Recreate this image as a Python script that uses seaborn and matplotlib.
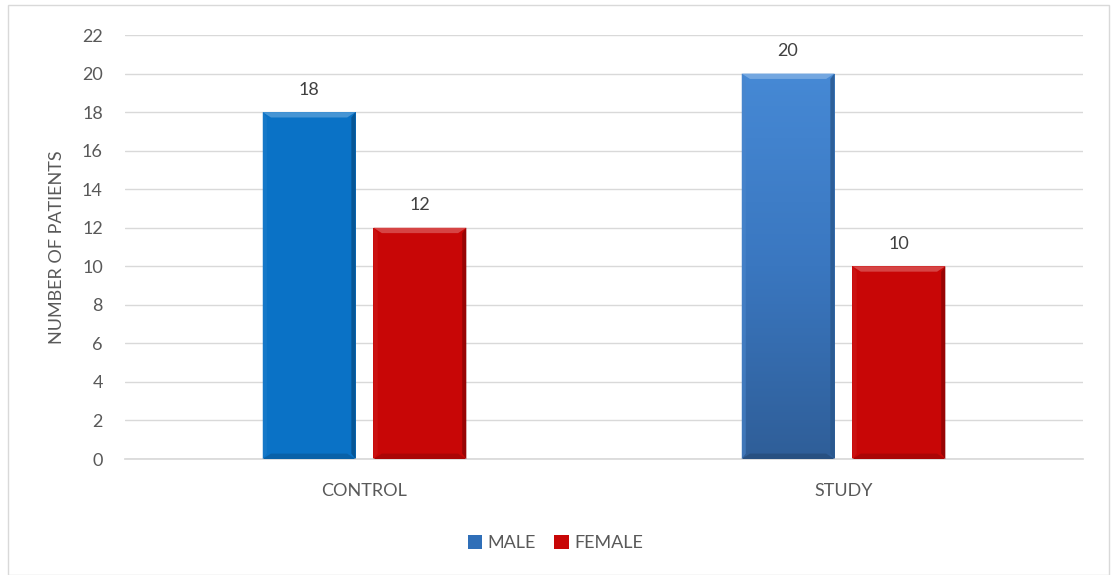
import matplotlib
matplotlib.use("Agg")
import matplotlib.pyplot as plt
import seaborn as sns
import pandas as pd
import numpy as np
from matplotlib.patches import Rectangle, Polygon
from matplotlib.colors import to_rgb, LinearSegmentedColormap

groups = ["CONTROL", "STUDY"]
sexes = ["MALE", "FEMALE"]
male_counts = [18, 20]
female_counts = [12, 10]
y_ticks = list(range(0, 23, 2))

rows = []
for g, m, f in zip(groups, male_counts, female_counts):
    rows.append({"group": g, "sex": "MALE", "count": m})
    rows.append({"group": g, "sex": "FEMALE", "count": f})
df = pd.DataFrame(rows)

sns.set_theme(style="white")
plt.rcParams["font.family"] = ["Lato", "DejaVu Sans"]

text_color = "#595959"
fs = 13
fig = plt.figure(figsize=(11.11, 5.75), dpi=100)
ax = fig.add_axes([125 / 1111, 1 - 459 / 575, (1083 - 125) / 1111, (459 - 35) / 575])

palette = {"MALE": "#0a72c6", "FEMALE": "#c80606"}
sns.barplot(data=df, x="group", y="count", hue="sex", hue_order=sexes,
            palette=palette, width=0.463, gap=0.162, ax=ax, legend=False,
            saturation=1, linewidth=0, errorbar=None)

ax.set_ylim(0, 22)
ax.set_yticks(y_ticks)
ax.set_xlim(-0.5, 1.5)
ax.yaxis.grid(True, color="#d9d9d9", linewidth=1)
ax.set_axisbelow(True)
for s in ["top", "right", "left"]:
    ax.spines[s].set_visible(False)
ax.spines["bottom"].set_color("#d9d9d9")
ax.tick_params(axis="both", length=0, colors=text_color, labelsize=fs)
ax.tick_params(axis="x", pad=17)
ax.tick_params(axis="y", pad=16)
ax.set_xlabel("")
ax.set_ylabel("NUMBER OF PATIENTS", color=text_color, fontsize=fs, labelpad=12)

fills = {}
for bar, (g, s) in zip(ax.patches, [(g, s) for s in sexes for g in groups]):
    fills[(g, s)] = bar

# study male bar: steel-blue vertical gradient, clipped to the bar
sm = fills[("STUDY", "MALE")]
sm.set_facecolor("#3a7cc8")
grad_cmap = LinearSegmentedColormap.from_list("steel", ["#2f5e98", "#3a77c0", "#4689d5"])
sx, sy, sw, sh = sm.get_x(), sm.get_y(), sm.get_width(), sm.get_height()
img = ax.imshow(np.linspace(0, 1, 256).reshape(-1, 1), cmap=grad_cmap, origin="lower",
                extent=(sx, sx + sw, sy, sy + sh), aspect="auto", zorder=2.5,
                interpolation="bilinear")
img.set_clip_path(sm)
ax.set_xlim(-0.5, 1.5)
ax.set_ylim(0, 22)


def shade(c, k):
    r, gg, b = to_rgb(c)
    if k > 0:
        return (r + (1 - r) * k, gg + (1 - gg) * k, b + (1 - b) * k)
    return (r * (1 + k), gg * (1 + k), b * (1 + k))


# bevelled edges on each bar
for (g, s), bar in fills.items():
    x0, y0 = bar.get_x(), bar.get_y()
    w, h = bar.get_width(), bar.get_height()
    base = bar.get_facecolor()
    top_base = "#4689d5" if (g, s) == ("STUDY", "MALE") else base
    bot_base = "#2f5e98" if (g, s) == ("STUDY", "MALE") else base
    bw = w * 0.09
    bh = 0.28
    top = Polygon([(x0, y0 + h), (x0 + w, y0 + h), (x0 + w - bw, y0 + h - bh), (x0 + bw, y0 + h - bh)],
                  closed=True, facecolor=shade(top_base, 0.25), edgecolor="none", zorder=3)
    bottom = Polygon([(x0, y0), (x0 + w, y0), (x0 + w - bw, y0 + bh), (x0 + bw, y0 + bh)],
                     closed=True, facecolor=shade(bot_base, -0.15), edgecolor="none", zorder=3)
    left = Polygon([(x0, y0), (x0 + bw * 0.5, y0 + bh), (x0 + bw * 0.5, y0 + h - bh), (x0, y0 + h)],
                   closed=True, facecolor=shade(base, 0.08), edgecolor="none", zorder=3, alpha=0.6)
    right = Polygon([(x0 + w, y0), (x0 + w - bw * 0.5, y0 + bh), (x0 + w - bw * 0.5, y0 + h - bh), (x0 + w, y0 + h)],
                    closed=True, facecolor=shade(base, -0.3), edgecolor="none", zorder=3, alpha=0.8)
    for p in (top, bottom, left, right):
        ax.add_patch(p)
    ax.text(x0 + w / 2, y0 + h + 0.75, f"{int(h)}", ha="center", va="bottom",
            color="#404040", fontsize=fs, zorder=4)

# legend
handles = [Rectangle((0, 0), 1, 1, facecolor=palette[s] if s == "FEMALE" else "#2f6fb8",
                     edgecolor="none") for s in sexes]
fig.legend(handles, sexes, loc="center", bbox_to_anchor=(0.5, 1 - 543 / 575), ncol=2,
           frameon=False, fontsize=fs, labelcolor=text_color, handlelength=0.8,
           handleheight=0.8, handletextpad=0.3, columnspacing=1.0)

# outer frame
fig.patches.append(Rectangle((8 / 1111, 0), 1 - 8 / 1111 - 2 / 1111, 1 - 5 / 575,
                             transform=fig.transFigure, fill=False,
                             edgecolor="#d9d9d9", linewidth=1))

fig.savefig("out.png", dpi=100)
